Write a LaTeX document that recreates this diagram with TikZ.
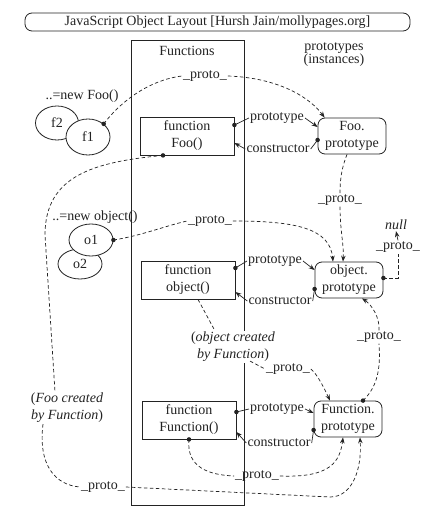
\documentclass[tikz,border=0pt]{standalone}
\usepackage{fontspec}
\setmainfont{Liberation Serif}
\usetikzlibrary{shapes.geometric,arrows.meta,calc}
\definecolor{ink}{RGB}{35,35,35}
\begin{document}
\begin{tikzpicture}[x=1pt,y=-1pt,
  every node/.style={font=\fontsize{14}{17}\selectfont, text=ink},
  fnbox/.style={draw=ink, line width=0.8pt, minimum width=94pt, minimum height=38pt, align=center, inner sep=0pt},
  protobox/.style={draw=ink, line width=0.8pt, rounded corners=7pt, minimum width=68pt, minimum height=36pt, align=center, inner sep=0pt},
  obj/.style={draw=ink, line width=0.8pt, ellipse, fill=white, inner sep=0pt},
  lbl/.style={inner sep=1pt},
  wlbl/.style={inner sep=1pt, fill=white},
  dotn/.style={circle, fill=ink, inner sep=0pt, minimum size=4.5pt},
  link/.style={draw=ink, line width=0.7pt},
  arr/.style={-{Stealth[length=6pt,width=4.5pt]}},
  dsh/.style={dash pattern=on 3.5pt off 2.5pt}]
\fill[white] (0,0) rectangle (434,518);
\useasboundingbox (0,0) rectangle (434,518);

% title and column
\node[draw=ink, line width=0.8pt, rounded corners=7pt, minimum width=385pt, minimum height=18pt, inner sep=0pt] (title) at (217.5,22) {JavaScript Object Layout [Hursh Jain/mollypages.org]};
\node[draw=ink, line width=0.8pt, minimum width=113pt, minimum height=465pt, inner sep=0pt] (col) at (187.5,272.5) {};
\node (fnhdr) at (187,51) {Functions};
\node[align=center, font=\fontsize{14}{13}\selectfont] (protohdr) at (334,55) {prototypes\\(instances)};

% instances
\node (newfoo) at (82,96) {..=new Foo()};
\node[obj, minimum width=43pt, minimum height=34pt] (f2) at (57,123) {f2};
\node[obj, minimum width=44pt, minimum height=36pt] (f1) at (88,137) {f1};
\node (newobj) at (95,217) {..=new object()};
\node[obj, minimum width=44pt, minimum height=30pt] (o2) at (80,264) {o2};
\node[obj, minimum width=44pt, minimum height=32pt] (o1) at (91,240) {o1};

% functions and prototypes
\node[fnbox, fill=white] (foo) at (187,136) {function\\Foo()};
\node[protobox] (fooP) at (352,136) {Foo.\\prototype};
\node[fnbox, fill=white] (objF) at (188,280) {function\\object()};
\node[protobox] (objP) at (349,280) {object.\\prototype};
\node[fnbox, fill=white] (fnF) at (189,420) {function\\Function()};
\node[protobox] (fnP) at (348,419) {Function.\\prototype};

% dot coordinates
\coordinate (f1dot) at (f1.40);
\coordinate (fooDotR) at ($(foo.east)+(0,-11)$);
\coordinate (fooPdot) at ($(fooP.west)+(0,4)$);
\coordinate (fooDotB) at ($(foo.south)+(-24,0)$);
\coordinate (o1dot) at (o1.east);
\coordinate (objDotR) at ($(objF.east)+(0,-12)$);
\coordinate (objPdot) at ($(objP.west)+(0,9)$);
\coordinate (objPdotR) at ($(objP.east)+(0,-2)$);
\coordinate (fnDotR) at ($(fnF.east)+(0,-8)$);
\coordinate (fnPdot) at ($(fnP.west)+(0,11)$);
\coordinate (fnDotB) at (fnF.south);
\coordinate (fnPdotT) at ($(fnP.north)+(15,0)$);

% prototype / constructor links
\node[lbl] (fooProto) at (277,118) {prototype};
\node[lbl] (fooCons) at (278,149) {constructor};
\draw[link] (fooDotR) -- (fooProto.west);
\draw[link,arr] (fooProto.east) -- ($(fooP.west)+(0,-9)$);
\draw[link] (fooPdot) -- (fooCons.east);
\draw[link,arr] (fooCons.west) -- ($(foo.east)+(0,7)$);

\node[lbl] (objProto) at (275,261) {prototype};
\node[lbl] (objCons) at (280,301) {constructor};
\draw[link] (objDotR) -- (objProto.west);
\draw[link,arr] (objProto.east) -- ($(objP.west)+(0,-10)$);
\draw[link] (objPdot) -- (objCons.east);
\draw[link,arr] (objCons.west) -- ($(objF.east)+(0,12)$);

\node[lbl] (fnProto) at (277,409) {prototype};
\node[lbl] (fnCons) at (279,443) {constructor};
\draw[link] (fnDotR) -- (fnProto.west);
\draw[link,arr] (fnProto.east) -- ($(fnP.west)+(0,-6)$);
\draw[link] (fnPdot) -- (fnCons.east);
\draw[link,arr] (fnCons.west) -- ($(fnF.east)+(0,12)$);

% A: f1 -> Foo.prototype
\node[lbl] (pA) at (205,76) {\_proto\_};
\draw[link,dsh] (f1dot) .. controls (122,100) and (150,80) .. (pA.west);
\draw[link,dsh,arr] (pA.east) .. controls (280,78) and (310,98) .. ($(fooP.north west)+(7,0)$);

% B: Foo -> Function.prototype
\node[wlbl, align=center] (fooLbl) at (67,408) {(\textit{Foo created}\\\textit{by Function})};
\draw[link,dsh] (fooDotB) .. controls (95,162) and (45,175) .. (45,235) -- ($(fooLbl.north)+(-12,0)$);
\node[lbl] (pB) at (103,487) {\_proto\_};
\draw[link,dsh] ($(fooLbl.south)+(-24,0)$) .. controls (38,465) and (55,485) .. (pB.west);
\draw[link,dsh,arr] (pB.east) -- (330,497) .. controls (352,497) and (362,470) .. ($(fnP.south)+(12,0)$);

% C: Function() -> Function.prototype
\node[lbl] (pC) at (257,476) {\_proto\_};
\draw[link,dsh] (fnDotB) .. controls (186,468) and (210,475) .. (pC.west);
\draw[link,dsh,arr] (pC.east) .. controls (330,478) and (340,462) .. ($(fnP.south)+(-5,0)$);

% D: object() -> Function.prototype
\node[wlbl, align=center] (objLbl) at (233,347) {(\textit{object created}\\\textit{by Function})};
\draw[link,dsh] ($(objF.south)+(10,0)$) -- ($(objLbl.north)+(-18,0)$);
\node[lbl] (pD) at (288,369) {\_proto\_};
\draw[link,dsh] ($(objLbl.south)+(17,-2)$) -- (pD.west);
\draw[link,dsh,arr] (pD.east) .. controls (318,375) and (325,390) .. ($(fnP.north)+(-18,0)$);

% E: o1 -> object.prototype
\node[lbl] (pE) at (210,221) {\_proto\_};
\draw[link,dsh] (o1dot) .. controls (140,236) and (165,226) .. (pE.west);
\draw[link,dsh,arr] (pE.east) .. controls (295,221) and (330,228) .. ($(objP.north)+(-16,0)$);

% F: Foo.prototype -> object.prototype
\node[lbl] (pF) at (340,200) {\_proto\_};
\draw[link,dsh] ($(fooP.south)+(-5,0)$) .. controls (343,165) and (340,175) .. (pF.north);
\draw[link,dsh,arr] (pF.south) .. controls (340,230) and (344,245) .. ($(objP.north)+(-6,0)$);

% G: object.prototype -> null
\node[lbl] (pG) at (398,247) {\_proto\_};
\node[lbl] (null) at (396,225) {\textit{null}};
\draw[link,dsh] (objPdotR) -| (pG.south);
\draw[link,arr] (pG.north) -- (null.south);

% H: Function.prototype -> object.prototype
\node[lbl] (pH) at (379,337) {\_proto\_};
\draw[link,dsh] (fnPdotT) .. controls (376,388) and (381,372) .. (pH.south);
\draw[link,dsh,arr] (pH.north) .. controls (380,318) and (372,305) .. ($(objP.south)+(13,0)$);

% dots
\foreach \d in {f1dot,fooDotR,fooPdot,fooDotB,o1dot,objDotR,objPdot,objPdotR,fnDotR,fnPdot,fnDotB,fnPdotT}
  \node[dotn] (dot-\d) at (\d) {};
\end{tikzpicture}
\end{document}
